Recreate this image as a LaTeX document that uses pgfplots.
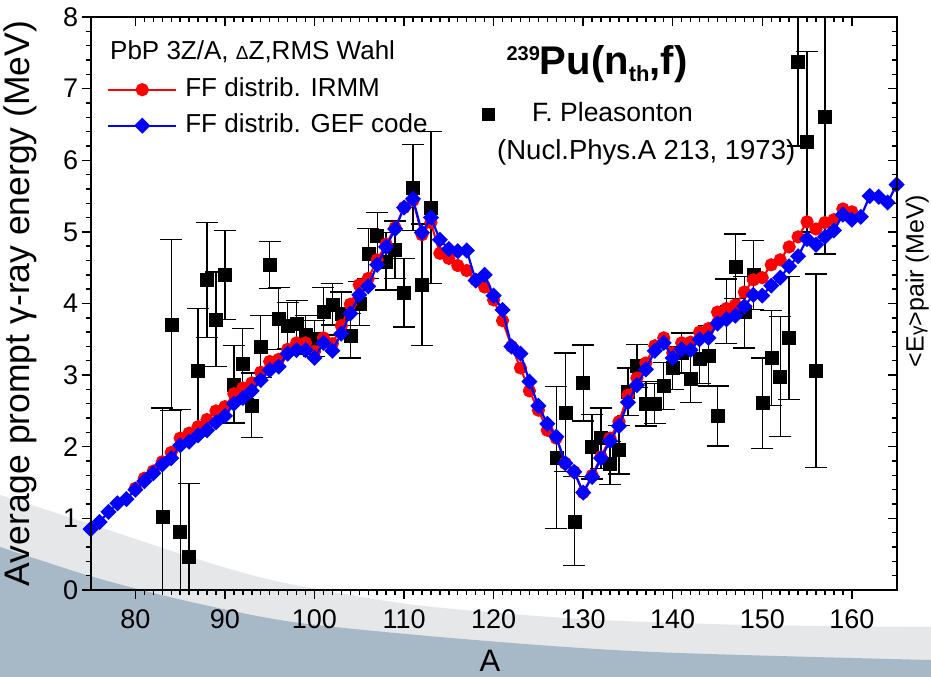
\documentclass[border=0pt]{standalone}
\usepackage{pgfplots}
\pgfplotsset{compat=1.18}
\usepackage{pgfplotstable}
\usepackage{fontspec}
\setmainfont{Liberation Sans}
\definecolor{swlight}{RGB}{229,231,233}
\definecolor{swdark}{RGB}{167,184,199}

\pgfplotstableread{
A E err
83 1.02 1.52
84 3.70 1.19
85 0.82 1.70
86 0.47 1.02
87 3.06 0.87
88 4.33 0.80
89 3.78 0.66
90 4.40 0.62
91 2.87 0.54
92 3.16 0.49
93 2.58 0.45
94 3.40 0.43
95 4.54 0.33
96 3.79 0.43
97 3.69 0.32
98 3.72 0.32
99 3.56 0.27
100 3.51 0.25
101 3.89 0.33
102 3.99 0.29
103 3.86 0.30
104 3.55 0.31
105 4.00 0.31
106 4.70 0.35
107 4.95 0.32
108 4.59 0.40
109 4.75 0.40
110 4.15 0.48
111 5.62 0.60
112 4.26 0.85
113 5.34 1.06
127 1.85 0.99
128 2.48 0.83
129 0.96 0.62
130 2.89 0.53
131 2.00 0.45
132 2.12 0.42
133 1.77 0.30
134 1.96 0.34
135 2.77 0.33
136 3.13 0.30
137 2.60 0.31
138 2.60 0.28
139 2.85 0.33
140 3.10 0.30
141 3.31 0.28
142 2.95 0.33
143 3.23 0.35
144 3.27 0.42
145 2.43 0.42
146 3.89 0.45
147 4.52 0.45
148 3.88 0.50
149 4.40 0.48
150 2.61 0.63
151 3.24 0.66
152 2.98 0.84
153 3.52 0.86
154 7.37 1.17
155 6.26 1.26
156 3.06 1.35
157 6.61 1.92
}\pleas

\pgfplotstableread{
A E
80 1.42
81 1.56
82 1.66
83 1.79
84 1.92
85 2.12
86 2.19
87 2.28
88 2.38
89 2.50
90 2.56
91 2.74
92 2.82
93 2.89
94 3.04
95 3.19
96 3.22
97 3.36
98 3.45
99 3.45
100 3.33
101 3.52
102 3.44
103 3.69
104 3.99
105 4.26
106 4.35
107 4.61
108 4.83
109 5.06
110 5.34
111 5.44
112 4.96
113 5.13
114 4.70
115 4.63
116 4.53
117 4.46
118 4.33
119 4.23
120 4.05
121 3.76
122 3.40
123 3.10
124 2.78
125 2.51
126 2.23
127 2.12
128 1.77
129 1.65
130 1.36
131 1.60
132 1.86
133 2.12
134 2.35
135 2.72
136 2.96
137 3.17
138 3.41
139 3.52
140 3.31
141 3.45
142 3.46
143 3.60
144 3.65
145 3.88
146 3.93
147 3.98
148 4.16
149 4.33
150 4.36
151 4.54
152 4.61
153 4.79
154 4.93
155 5.14
156 5.04
157 5.13
158 5.17
159 5.32
160 5.28
}\irmm

\pgfplotstableread{
A E
75 0.85
76 0.95
77 1.09
78 1.21
79 1.27
80 1.40
81 1.52
82 1.63
83 1.75
84 1.84
85 2.02
86 2.07
87 2.16
88 2.23
89 2.34
90 2.43
91 2.60
92 2.68
93 2.78
94 2.93
95 3.07
96 3.12
97 3.30
98 3.35
99 3.35
100 3.24
101 3.45
102 3.34
103 3.58
104 3.86
105 4.12
106 4.24
107 4.54
108 4.79
109 5.04
110 5.34
111 5.46
112 4.99
113 5.20
114 4.89
115 4.76
116 4.73
117 4.74
118 4.32
119 4.40
120 4.11
121 3.91
122 3.40
123 3.30
124 2.91
125 2.57
126 2.32
127 2.14
128 1.77
129 1.65
130 1.36
131 1.58
132 1.84
133 2.08
134 2.29
135 2.62
136 2.86
137 3.08
138 3.34
139 3.45
140 3.24
141 3.36
142 3.35
143 3.50
144 3.52
145 3.72
146 3.78
147 3.83
148 3.96
149 4.12
150 4.11
151 4.25
152 4.36
153 4.52
154 4.66
155 4.90
156 4.82
157 4.93
158 5.02
159 5.24
160 5.17
161 5.21
162 5.50
163 5.49
164 5.41
165 5.66
}\gef

\pgfplotsset{
  common/.style={
    at={(90.6bp,87bp)}, anchor=south west,
    width=806bp, height=573bp, scale only axis,
    xmin=75, xmax=165, ymin=0, ymax=8,
    xtick={80,90,...,160}, ytick={0,1,...,8},
    minor x tick num=9, minor y tick num=4,
    major tick length=9bp, minor tick length=5bp,
    every tick/.style={black, line width=1.4bp},
    axis line style={black, line width=2bp},
  }
}

\begin{document}
\begin{tikzpicture}[x=1bp,y=1bp]
\useasboundingbox (0,0) rectangle (931,677);
\clip (0,0) rectangle (931,677);
\fill[white] (0,0) rectangle (931,677);
\fill[swlight] plot[smooth] coordinates {(0,182) (90,153) (200,117) (280,95) (400,74) (500,64) (600,57) (750,52) (931,50)} -- (931,0) -- (0,0) -- cycle;
\fill[swdark] plot[smooth] coordinates {(0,130) (80,104) (130,90) (200,73) (300,54) (475,37) (653,25) (931,17)} -- (931,0) -- (0,0) -- cycle;

\begin{axis}[common,
  tick align=outside, xtick pos=left, ytick pos=left,
  clip mode=individual,
  /pgf/number format/assume math mode=true,
  ticklabel style={font=\fontsize{27bp}{32bp}\selectfont},
  xticklabel style={yshift=-7bp},
  xlabel={A}, ylabel={Average prompt γ-ray energy (MeV)},
  xlabel style={font=\fontsize{31bp}{36bp}\selectfont, at={(axis description cs:0.4955,-0.1235)}, anchor=center},
  ylabel style={font=\fontsize{35.5bp}{42bp}\selectfont, at={(axis description cs:-0.0876,0.5)}, anchor=center},
  legend style={at={(axis description cs:0.0203,0.8953)}, anchor=north west,
    draw=none, fill=none, inner sep=0pt, row sep=11bp,
    font=\fontsize{26bp}{31bp}\selectfont,
    nodes={inner sep=0pt, text height=19bp, text depth=6bp}},
  legend cell align=left,
  legend image code/.code={\draw[#1, mark repeat=2, mark phase=2] plot coordinates {(0bp,0bp) (34bp,0bp) (68bp,0bp)}; \path (76bp,0bp);},
]
\addplot[forget plot, only marks, mark=square*, mark size=6.5bp, black,
  error bars/.cd, y dir=both, y explicit,
  error bar style={line width=1.3bp, black},
  error mark options={rotate=90, mark size=11bp, line width=1.3bp, black}]
  table[x=A, y=E, y error=err]{\pleas};
\addplot[red, line width=2bp, mark=*, mark size=5.6bp, mark options={solid, fill=red}]
  table[x=A, y=E]{\irmm};
\addlegendentry{FF distrib. IRMM}
\addplot[blue, line width=2.2bp, mark=square*, mark size=4.6bp, mark options={solid, fill=blue, rotate=45}]
  table[x=A, y=E]{\gef};
\addlegendentry{FF distrib. GEF code}
\end{axis}

\begin{axis}[common,
  tick align=inside, xtick pos=right, ytick pos=right,
  xticklabels={}, yticklabels={},
  legend style={at={(axis description cs:0.4757,0.829)}, anchor=west,
    draw=none, fill=none, inner sep=0pt,
    font=\fontsize{26.5bp}{32bp}\selectfont,
    nodes={inner sep=0pt, text height=19bp, text depth=6bp}},
  legend image code/.code={\path[draw=none, fill=none] (0bp,-6.5bp) rectangle (58bp,6.5bp); \fill[black, draw=none] (7.5bp,-6.5bp) rectangle (20.5bp,6.5bp);},
]
\addlegendimage{black, no marks}
\addlegendentry{F. Pleasonton}
\end{axis}

\node[anchor=west, inner sep=0pt, font=\fontsize{26bp}{31bp}\selectfont] at (110,625)
  {PbP 3Z/A, {\fontsize{19bp}{20bp}\selectfont Δ}Z,RMS Wahl};
\node[anchor=base, inner sep=0pt, font=\bfseries\fontsize{40bp}{48bp}\selectfont] at (597,602)
  {\raisebox{14bp}{\fontsize{20bp}{22bp}\selectfont 239}Pu(n\raisebox{-7bp}{\fontsize{22bp}{24bp}\selectfont th},f)};
\node[anchor=west, inner sep=0pt, font=\fontsize{27.5bp}{32bp}\selectfont] at (497,525)
  {(Nucl.Phys.A 213, 1973)};
\node[rotate=90, anchor=base, inner sep=0pt, font=\fontsize{25bp}{30bp}\selectfont] at (923.5,396)
  {<E{\fontsize{19bp}{24bp}\selectfont γ}>pair (MeV)};
\end{tikzpicture}
\end{document}
